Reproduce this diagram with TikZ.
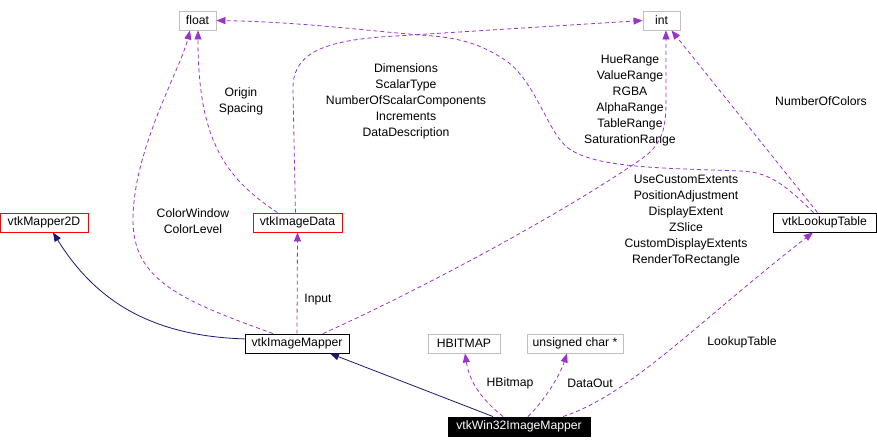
\documentclass[tikz,border=0pt]{standalone}
\usepackage{fontspec}
\setmainfont{Liberation Sans}
\usetikzlibrary{arrows.meta}
\definecolor{usepurple}{HTML}{9A32CD}
\definecolor{inhnavy}{HTML}{191970}
\definecolor{boxgray}{HTML}{BFBFBF}

\begin{document}
\begin{tikzpicture}[x=1bp, y=-1bp, >={Triangle[length=9bp,width=7bp]},
		font=\fontsize{12.2bp}{16bp}\selectfont,
		box/.style={rectangle, line width=0.9bp, inner sep=0pt, minimum height=19bp, fill=white},
		cls/.style={box, draw=black},
		ext/.style={box, draw=red},
		builtin/.style={box, draw=boxgray},
		focus/.style={box, draw=black, fill=black, text=white},
		lbl/.style={align=center, inner sep=0pt},
		usage/.style={usepurple, line width=0.8bp, dash pattern=on 4bp off 3bp},
		inherit/.style={inhnavy, line width=0.8bp}]
	\useasboundingbox (0,0) rectangle (877,448);
	% classes
	\node[builtin, minimum width=37bp] (float) at (197.5,20.5) {float};
	\node[builtin, minimum width=37bp] (int) at (661.5,20.5) {int};
	\node[ext, minimum width=88bp] (mapper2d) at (44,222.5) {vtkMapper2D};
	\node[ext, minimum width=89bp] (imgdata) at (297.5,222.5) {vtkImageData};
	\node[cls, minimum width=103bp] (lut) at (824.5,222.5) {vtkLookupTable};
	\node[cls, minimum width=104bp] (imgmapper) at (297,343.5) {vtkImageMapper};
	\node[builtin, minimum width=72bp] (hbitmap) at (464,343.5) {HBITMAP};
	\node[builtin, minimum width=96bp] (ucs) at (575,343.5) {unsigned char *};
	\node[focus, minimum width=142bp] (win32) at (519,426.5) {vtkWin32ImageMapper};
	% inheritance
	\draw[inherit, ->] (imgmapper.175) .. controls (150,336) and (95,300) .. ([xshift=9bp]mapper2d.south);
	\draw[inherit, ->] ([xshift=-26bp]win32.north) -- ([xshift=33bp]imgmapper.south);
	% members
	\draw[usage, ->] (imgmapper.north) -- (imgdata.south);
	\draw[usage, ->] ([xshift=-24bp]imgmapper.north) .. controls (180,300) and (133,280) .. (133,220)
		.. controls (133,150) and (180,70) .. ([xshift=-7.5bp]float.south);
	\draw[usage, ->] ([xshift=-20bp]imgdata.north) .. controls (225,178) and (198,140) .. ([xshift=0.5bp]float.south);
	\draw[usage, ->] ([xshift=-2bp]imgdata.north) -- (293,90) .. controls (292,55) and (320,42) .. (380,37) -- (int.west);
	\draw[usage, ->] ([xshift=-11bp]lut.north) .. controls (785,185) and (770,172) .. (740,171)
		.. controls (660,168) and (595,168) .. (568,148)
		.. controls (548,133) and (535,80) .. (505,60)
		.. controls (475,40) and (450,37) .. (420,35)
		.. controls (360,30) and (300,22) .. (float.east);
	\draw[usage, ->] ([xshift=-7bp]lut.north) -- ([xshift=10bp]int.south);
	\draw[usage, ->] ([xshift=26bp]imgmapper.north) .. controls (420,290) and (560,215) .. (640,160)
		.. controls (662,145) and (666,130) .. (666,100) -- ([xshift=4.5bp]int.south);
	\draw[usage, ->] ([xshift=44bp]win32.north) .. controls (630,395) and (700,320) .. ([xshift=-11.5bp]lut.south);
	\draw[usage, ->] ([xshift=-16bp]win32.north) .. controls (485,402) and (470,385) .. ([xshift=1bp]hbitmap.south);
	\draw[usage, ->] ([xshift=9bp]win32.north) .. controls (545,400) and (560,375) .. ([xshift=-8bp]ucs.south);
	% member names
	\node[lbl] (lorigin) at (241,101) {Origin\\Spacing};
	\node[lbl] (lcolor) at (193,221) {ColorWindow\\ColorLevel};
	\node[lbl] (ldims) at (406,101) {Dimensions\\ScalarType\\NumberOfScalarComponents\\Increments\\DataDescription};
	\node[lbl] (lranges) at (630,101) {HueRange\\ValueRange\\RGBA\\AlphaRange\\TableRange\\SaturationRange};
	\node[lbl] (lncolors) at (821,101) {NumberOfColors};
	\node[lbl] (lextents) at (686,221) {UseCustomExtents\\PositionAdjustment\\DisplayExtent\\ZSlice\\CustomDisplayExtents\\RenderToRectangle};
	\node[lbl] (linput) at (318,300) {Input};
	\node[lbl] (lhbitmap) at (510,383) {HBitmap};
	\node[lbl] (ldataout) at (590,383) {DataOut};
	\node[lbl] (llut) at (742,342) {LookupTable};
\end{tikzpicture}
\end{document}
